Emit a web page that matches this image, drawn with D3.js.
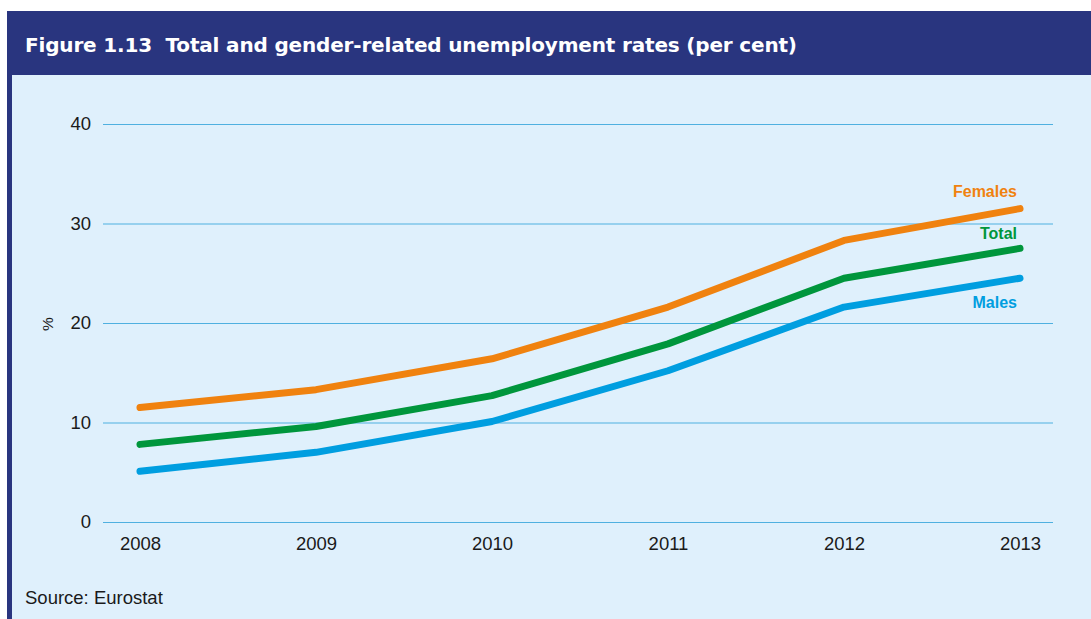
<!DOCTYPE html>
<html>
<head>
<meta charset="utf-8">
<script src="https://cdn.jsdelivr.net/npm/d3@7"></script>
<style>
  html, body { margin: 0; padding: 0; background: #ffffff; }
  svg { display: block; }
</style>
</head>
<body>
<svg id="chart" width="1091" height="619"></svg>
<script>
// Unemployment rates, per cent
const years = [2008, 2009, 2010, 2011, 2012, 2013];
const females = [11.5, 13.3, 16.4, 21.6, 28.3, 31.5];
const total = [7.8, 9.6, 12.7, 17.9, 24.5, 27.5];
const males = [5.1, 7.0, 10.1, 15.2, 21.6, 24.5];
const yTicks = [0, 10, 20, 30, 40];

const series = [
  { name: "Females", values: females, color: "#f0820f", labelDy: -12 },
  { name: "Total", values: total, color: "#00963c", labelDy: -9 },
  { name: "Males", values: males, color: "#009ee0", labelDy: 30 }
];

const W = 1091, H = 619;
const svg = d3.select("#chart");
const font = "'Liberation Sans', Arial, sans-serif";

// Frame: navy header band and left border, light blue body
svg.append("rect").attr("x", 7).attr("y", 11).attr("width", W - 7).attr("height", H - 11).attr("fill", "#29357f");
svg.append("rect").attr("x", 12).attr("y", 75).attr("width", W - 12).attr("height", H - 75).attr("fill", "#dff0fc");

svg.append("text")
  .attr("x", 25).attr("y", 52)
  .attr("fill", "#ffffff")
  .attr("textLength", 772)
  .attr("lengthAdjust", "spacing")
  .style("white-space", "pre")
  .style("font-family", "'DejaVu Sans', sans-serif")
  .style("font-weight", "bold")
  .style("font-size", "20px")
  .text("Figure 1.13  Total and gender-related unemployment rates (per cent)");

const x = d3.scalePoint().domain(years).range([140, 1020]);
const y = d3.scaleLinear().domain([0, 40]).range([522, 124]);

// Horizontal gridlines with y tick labels
const yAxis = svg.append("g")
  .attr("transform", "translate(103,0)")
  .call(d3.axisLeft(y).tickValues(yTicks).tickSize(-950).tickPadding(12).tickFormat(d3.format("d")));
yAxis.select(".domain").remove();
yAxis.selectAll(".tick line").attr("stroke", "#4fb0e0").attr("stroke-width", 1.2);
yAxis.selectAll(".tick text")
  .attr("fill", "#1a1a1a")
  .style("font-family", font)
  .style("font-size", "18.5px");

// Year labels
const xAxis = svg.append("g")
  .attr("transform", "translate(0,522)")
  .call(d3.axisBottom(x).tickSize(0).tickPadding(15).tickFormat(d3.format("d")));
xAxis.select(".domain").remove();
xAxis.selectAll(".tick text")
  .attr("fill", "#1a1a1a")
  .style("font-family", font)
  .style("font-size", "18.5px");

// Axis unit label
svg.append("text")
  .attr("transform", "translate(49,324) rotate(-90)")
  .attr("text-anchor", "middle")
  .attr("dominant-baseline", "middle")
  .attr("fill", "#1a1a1a")
  .style("font-family", font)
  .style("font-size", "15.5px")
  .text("%");

const line = d3.line()
  .x((d, i) => x(years[i]))
  .y(d => y(d));

series.forEach(s => {
  svg.append("path")
    .datum(s.values)
    .attr("d", line)
    .attr("fill", "none")
    .attr("stroke", s.color)
    .attr("stroke-width", 7)
    .attr("stroke-linecap", "round")
    .attr("stroke-linejoin", "round");

  const last = s.values[s.values.length - 1];
  svg.append("text")
    .attr("x", x(years[years.length - 1]) - 3)
    .attr("y", y(last) + s.labelDy)
    .attr("text-anchor", "end")
    .attr("fill", s.color)
    .style("font-family", font)
    .style("font-weight", "bold")
    .style("font-size", "16px")
    .text(s.name);
});

svg.append("text")
  .attr("x", 25).attr("y", 604)
  .attr("fill", "#1a1a1a")
  .style("font-family", font)
  .style("font-size", "18.5px")
  .text("Source: Eurostat");
</script>
</body>
</html>
